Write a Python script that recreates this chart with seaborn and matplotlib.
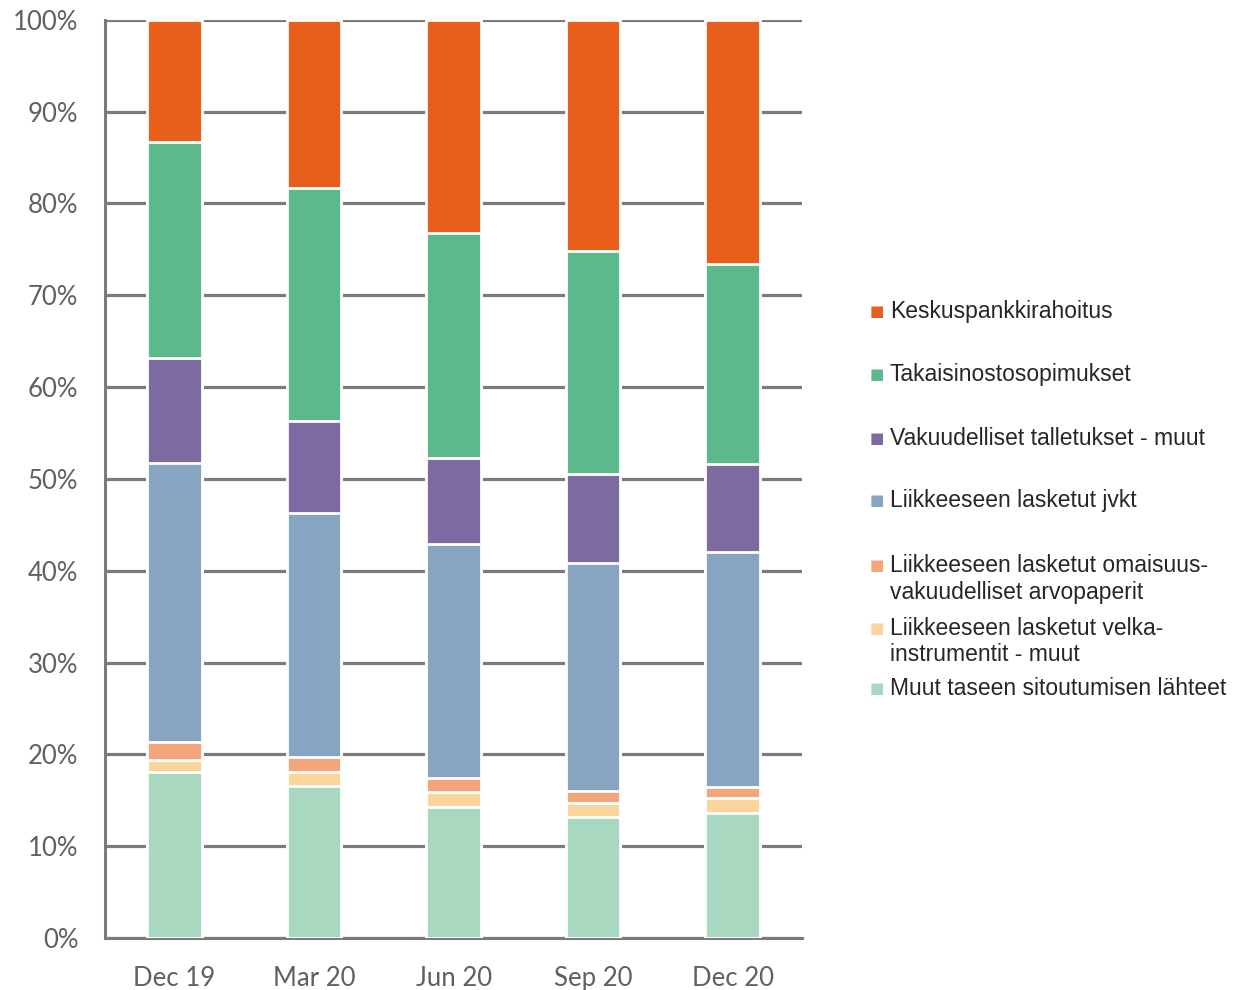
import matplotlib
matplotlib.use("Agg")
import matplotlib.pyplot as plt
import numpy as np
import pandas as pd
import seaborn as sns

quarters = ["Dec 19", "Mar 20", "Jun 20", "Sep 20", "Dec 20"]

# shares in %, bottom segment first
muut_taseen = [18.1, 16.6, 14.3, 13.2, 13.6]
velkainstrumentit = [1.3, 1.5, 1.6, 1.5, 1.6]
omaisuusvakuudelliset = [2.0, 1.6, 1.5, 1.3, 1.3]
jvkt = [30.3, 26.6, 25.5, 24.8, 25.5]
vakuudelliset_talletukset = [11.5, 10.0, 9.4, 9.7, 9.6]
takaisinosto = [23.5, 25.4, 24.5, 24.3, 21.8]
keskuspankki = [13.3, 18.3, 23.2, 25.2, 26.6]

series_labels = [
    "Muut taseen sitoutumisen lähteet",
    "Liikkeeseen lasketut velka-\ninstrumentit - muut",
    "Liikkeeseen lasketut omaisuus-\nvakuudelliset arvopaperit",
    "Liikkeeseen lasketut jvkt",
    "Vakuudelliset talletukset - muut",
    "Takaisinostosopimukset",
    "Keskuspankkirahoitus",
]
series_values = [
    muut_taseen,
    velkainstrumentit,
    omaisuusvakuudelliset,
    jvkt,
    vakuudelliset_talletukset,
    takaisinosto,
    keskuspankki,
]
colors = ["#a8d9c0", "#f9d59c", "#f4a67a", "#87a4c1", "#7d6aa1", "#5bb98c", "#e85f1b"]

sns.set_style("white")
plt.rcParams["font.family"] = ["Lato", "DejaVu Sans"]

fig = plt.figure(figsize=(12.48, 9.9), dpi=100)
ax = fig.add_axes([0.084, 0.0525, 0.559, 0.9275])

grid_color = "#7b7b7b"
label_color = "#606060"
cumulative = np.cumsum(np.array(series_values), axis=0)

# draw from the top layer down so lower segments overlay the taller bars
for i in range(len(series_values) - 1, -1, -1):
    df = pd.DataFrame({"quarter": quarters, "value": cumulative[i]})
    sns.barplot(
        data=df, x="quarter", y="value", order=quarters, color=colors[i],
        width=0.39, saturation=1, edgecolor="white", linewidth=2.0,
        ax=ax, zorder=3,
    )

ax.set_xlim(-0.5, 4.5)
ax.set_ylim(0, 100)
ax.set_yticks(np.arange(0, 101, 10))
ax.set_yticklabels([f"{v}%" for v in range(0, 101, 10)])
ax.set_xlabel("")
ax.set_ylabel("")

ax.yaxis.grid(True, color=grid_color, linewidth=2.3, zorder=0)
ax.set_axisbelow(True)

for side in ["top", "right"]:
    ax.spines[side].set_visible(False)
for side in ["left", "bottom"]:
    ax.spines[side].set_color(grid_color)
    ax.spines[side].set_linewidth(2.2)

ax.tick_params(axis="y", which="major", direction="out", length=8, width=2.2,
               color=grid_color, labelsize=18.5, labelcolor=label_color, pad=11)
ax.tick_params(axis="x", which="major", length=0, labelsize=18.5,
               labelcolor=label_color, pad=20)
ax.set_xticks(np.arange(0.5, 4.6, 1.0), minor=True)
ax.tick_params(axis="x", which="minor", direction="out", length=9, width=2.2,
               color=grid_color)

# legend, top entry first, drawn as text rows
legend_rows_y = [0.697, 0.633, 0.569, 0.506, 0.440, 0.377, 0.316]
for i, y in zip(range(len(series_labels) - 1, -1, -1), legend_rows_y):
    fig.text(0.6965, y - 0.004, "■", color=colors[i], fontsize=11, va="top",
             family="DejaVu Sans")
    fig.text(0.713, y, series_labels[i], color="#262626", fontsize=16.5,
             va="top", family="Liberation Sans", linespacing=1.2)

fig.savefig("out.png", dpi=100)
